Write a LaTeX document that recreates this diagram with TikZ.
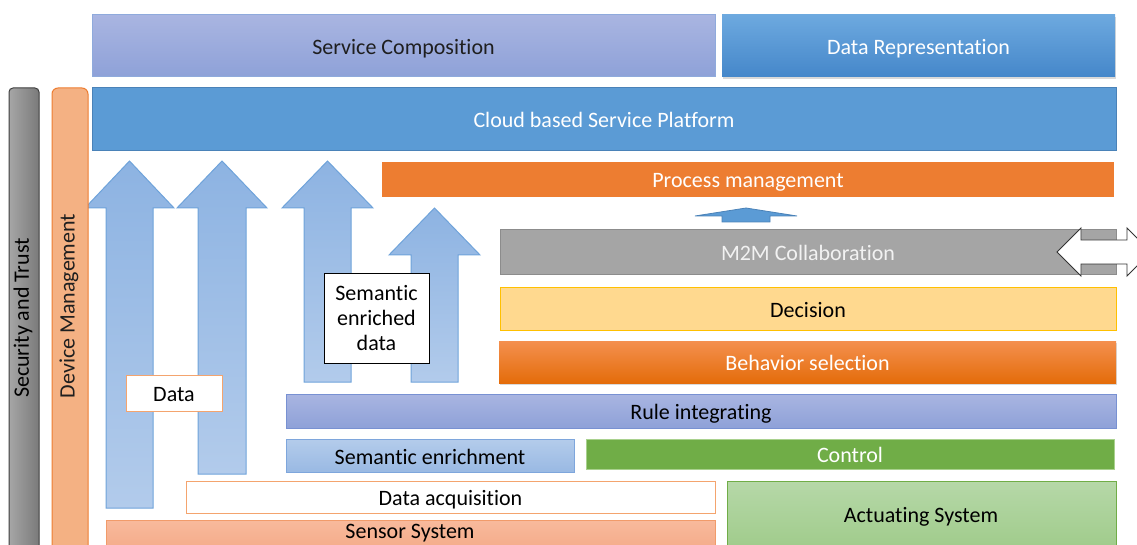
\documentclass[tikz,border=0pt]{standalone}
\usepackage{fontspec}
\setmainfont{Carlito}[Ligatures=NoCommon]
\usetikzlibrary{shadows}
\definecolor{svcTop}{HTML}{A9B5E1}
\definecolor{svcBot}{HTML}{8EA1D8}
\definecolor{svcLine}{HTML}{8FAADC}
\definecolor{repTop}{HTML}{6DA9DF}
\definecolor{repBot}{HTML}{4587CA}
\definecolor{cloudFill}{HTML}{5B9BD5}
\definecolor{cloudLine}{HTML}{4A82B8}
\definecolor{secLeft}{HTML}{A6A6A6}
\definecolor{secRight}{HTML}{7A7A7A}
\definecolor{secLine}{HTML}{3F3F3F}
\definecolor{devFill}{HTML}{F4B183}
\definecolor{devLine}{HTML}{ED7D31}
\definecolor{procFill}{HTML}{ED7D31}
\definecolor{arrTop}{HTML}{8DB3E2}
\definecolor{arrBot}{HTML}{B2CBEB}
\definecolor{arrLine}{HTML}{6FA3DA}
\definecolor{m2mFill}{HTML}{A5A5A5}
\definecolor{m2mLine}{HTML}{8C8C8C}
\definecolor{decFill}{HTML}{FFD98F}
\definecolor{decLine}{HTML}{FFC000}
\definecolor{behTop}{HTML}{F4904F}
\definecolor{behBot}{HTML}{E46C0A}
\definecolor{ruleLine}{HTML}{7891D2}
\definecolor{semTop}{HTML}{B4CCEB}
\definecolor{semBot}{HTML}{99B9E3}
\definecolor{semLine}{HTML}{7EA6DC}
\definecolor{ctrlFill}{HTML}{70AD47}
\definecolor{ctrlLine}{HTML}{A9D18E}
\definecolor{acqLine}{HTML}{F4A46E}
\definecolor{actTop}{HTML}{B6D8A8}
\definecolor{actBot}{HTML}{9FCB8A}
\definecolor{actLine}{HTML}{70AD47}
\definecolor{senTop}{HTML}{F8BA9C}
\definecolor{senBot}{HTML}{F3A683}
\definecolor{senLine}{HTML}{F19B6A}
\definecolor{txtDark}{HTML}{1F1F1F}
\begin{document}
\begin{tikzpicture}[x=1pt,y=-1pt,
  band/.style={draw, line width=1pt, anchor=north west, inner sep=0pt, outer sep=0pt,
    font=\fontsize{22}{26}\selectfont, text=txtDark, text height=17pt, text depth=0pt},
  freetext/.style={font=\fontsize{22}{26}\selectfont, text=txtDark},
  upblock/.style={draw=arrLine, line width=1pt, top color=arrTop, bottom color=arrBot},
  labelbox/.style={draw, line width=1pt, fill=white, inner sep=0pt, outer sep=0pt,
    anchor=north west, font=\fontsize{22}{26}\selectfont, align=center, text=black}]
\useasboundingbox (0,0) rectangle (1137,545);
\clip (0,0) rectangle (1137,545);

% top layer
\node[band, draw=svcLine, top color=svcTop, bottom color=svcBot,
  minimum width=623pt, minimum height=62pt] (svc) at (92,15) {Service Composition};
\node[band, draw=none, top color=repTop, bottom color=repBot, text=white,
  drop shadow={shadow xshift=1pt, shadow yshift=-2pt, opacity=0.3},
  minimum width=393pt, minimum height=62pt] (rep) at (722,15) {Data Representation};
\node[band, draw=cloudLine, fill=cloudFill, text=white,
  minimum width=1024pt, minimum height=63pt] (cloud) at (92,88) {Cloud based Service Platform};

% big upward block arrows
\path[upblock] (106,508) -- (106,208) -- (85,208) -- (129.5,161) -- (174,208) -- (153,208) -- (153,508) -- cycle;
\path[upblock] (198,474) -- (198,208) -- (177,208) -- (222,161) -- (267,208) -- (246,208) -- (246,474) -- cycle;
\path[upblock] (304,382) -- (304,208) -- (282,208) -- (327.5,161) -- (373,208) -- (351,208) -- (351,382) -- cycle;
\path[upblock] (411,382) -- (411,255) -- (389,255) -- (434.5,208) -- (480,255) -- (458,255) -- (458,382) -- cycle;

% side pillars
\node[band, draw=secLine, left color=secLeft, right color=secRight, rounded corners=4pt,
  minimum width=30pt, minimum height=480pt] (sec) at (9,88) {};
\node[freetext, rotate=90, text=black] (secT) at (23,318) {Security and Trust};
\node[band, draw=devLine, fill=devFill, rounded corners=6pt,
  minimum width=36pt, minimum height=480pt] (dev) at (52,88) {};
\node[freetext, rotate=90] (devT) at (69,306) {Device Management};

% process side
\node[band, draw=none, fill=procFill, text=white,
  minimum width=732pt, minimum height=35pt] (proc) at (382,162) {Process management};
\path[draw=cloudLine, line width=0.8pt, fill=cloudFill]
  (722,222) -- (722,216) -- (695,216) -- (746,208) -- (797,216) -- (770,216) -- (770,222) -- cycle;
\node[band, draw=m2mLine, fill=m2mFill, text=white!95!black,
  minimum width=616pt, minimum height=44pt] (m2m) at (500,230) {M2M Collaboration};
\path[draw=black!80, line width=0.9pt, fill=white]
  (1057,252) -- (1081,228) -- (1081,240) -- (1127,240) -- (1127,228) -- (1151,252)
  -- (1127,276) -- (1127,264) -- (1081,264) -- (1081,276) -- cycle;
\node[band, draw=decLine, fill=decFill, text=black,
  minimum width=616pt, minimum height=43pt] (dec) at (500,287) {Decision};
\node[band, draw=none, top color=behTop, bottom color=behBot, text=white,
  drop shadow={shadow xshift=1pt, shadow yshift=-2pt, opacity=0.3},
  minimum width=617pt, minimum height=42pt] (beh) at (499,341) {Behavior selection};

% lower layers
\node[band, draw=ruleLine, top color=svcTop, bottom color=svcBot, text=black,
  minimum width=830pt, minimum height=34pt] (rule) at (286,394) {Rule integrating};
\node[band, draw=semLine, top color=semTop, bottom color=semBot, text=black,
  minimum width=288pt, minimum height=33pt] (sem) at (286,439) {Semantic enrichment};
\node[band, draw=ctrlLine, fill=ctrlFill, text=white,
  minimum width=528pt, minimum height=30pt] (ctrl) at (586,439) {Control};
\node[band, draw=acqLine, fill=white, text=black,
  minimum width=529pt, minimum height=32pt] (acq) at (186,481) {Data acquisition};
\node[band, draw=actLine, top color=actTop, bottom color=actBot,
  minimum width=389pt, minimum height=70pt] (act) at (727,481) {};
\node[freetext, text=black] (actT) at (921,517) {Actuating System};
\node[band, draw=senLine, top color=senTop, bottom color=senBot,
  minimum width=609pt, minimum height=40pt] (sen) at (106,520) {};
\node[freetext, text=black] (senT) at (410,533) {Sensor System};

% label boxes over the arrows
\node[labelbox, draw=acqLine, minimum width=96pt, minimum height=36pt,
  text height=16pt, text depth=0pt] (data) at (126,375) {Data};
\node[labelbox, draw=black, minimum width=105pt, minimum height=90pt] (sed) at (324,273)
  {Semantic\\[-1pt]enriched\\[-1pt]data};
\end{tikzpicture}
\end{document}
